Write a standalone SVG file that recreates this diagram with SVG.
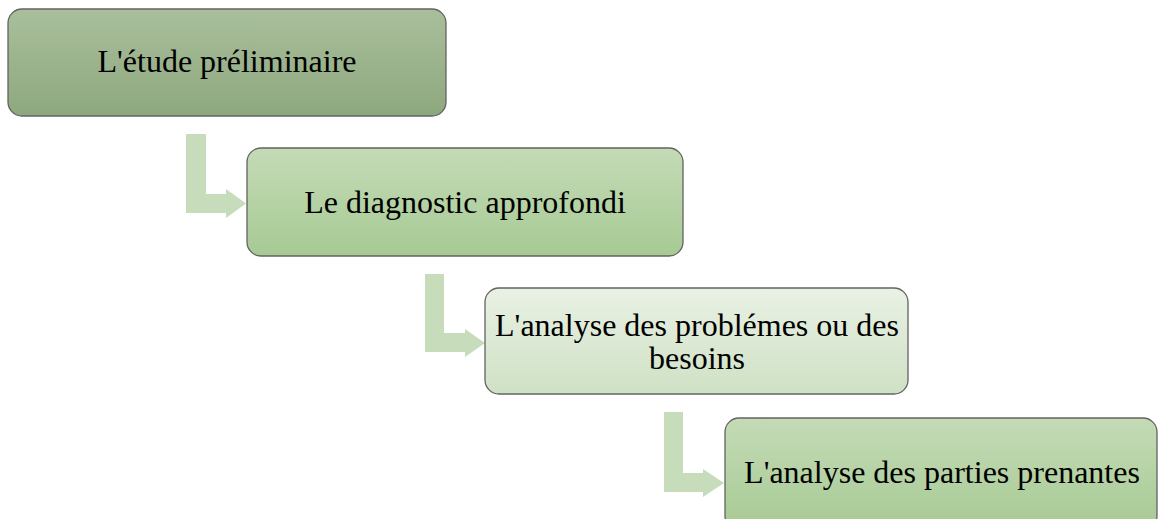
<svg xmlns="http://www.w3.org/2000/svg" width="1158" height="519" viewBox="0 0 1158 519">
  <defs>
    <linearGradient id="gDark" x1="0" y1="0" x2="0" y2="1">
      <stop offset="0" stop-color="#a9bf9c"/>
      <stop offset="1" stop-color="#8ea87e"/>
    </linearGradient>
    <linearGradient id="gMid" x1="0" y1="0" x2="0" y2="1">
      <stop offset="0" stop-color="#c4dbb6"/>
      <stop offset="1" stop-color="#a7ca94"/>
    </linearGradient>
    <linearGradient id="gLight" x1="0" y1="0" x2="0" y2="1">
      <stop offset="0" stop-color="#e9f1e4"/>
      <stop offset="1" stop-color="#cfe1c5"/>
    </linearGradient>
  </defs>
  <style>
    .box { stroke: #636363; stroke-width: 1.3; }
    .bend { fill: #c6dcba; }
    .label { font-family: "Liberation Serif", "Times New Roman", serif; font-size: 32px; fill: #000; text-anchor: middle; }
  </style>

  <!-- bent arrows leading from one step to the next -->
  <g id="connectors">
    <path class="bend" d="M186,134 H206 V194 H226 V189 L246,203.5 L226,218 V213 H186 Z"/>
    <path class="bend" d="M425,274 H444 V333 H465 V329 L485,343 L465,357 V352 H425 Z"/>
    <path class="bend" d="M664,412 H683 V473 H703 V469 L724,483 L703,497 V492 H664 Z"/>
  </g>

  <g id="step1">
    <rect class="box" x="8" y="9" width="438" height="107" rx="14" fill="url(#gDark)"/>
    <text class="label" x="227" y="72">L'étude préliminaire</text>
  </g>

  <g id="step2">
    <rect class="box" x="247" y="148" width="436" height="108" rx="14" fill="url(#gMid)"/>
    <text class="label" x="465" y="213">Le diagnostic approfondi</text>
  </g>

  <g id="step3">
    <rect class="box" x="485" y="288" width="423" height="106" rx="14" fill="url(#gLight)"/>
    <text class="label" x="697" y="336">L'analyse des problémes ou des</text>
    <text class="label" x="697" y="369">besoins</text>
  </g>

  <g id="step4">
    <rect class="box" x="725" y="418" width="432" height="112" rx="14" fill="url(#gMid)"/>
    <text class="label" x="942" y="483">L'analyse des parties prenantes</text>
  </g>
</svg>
